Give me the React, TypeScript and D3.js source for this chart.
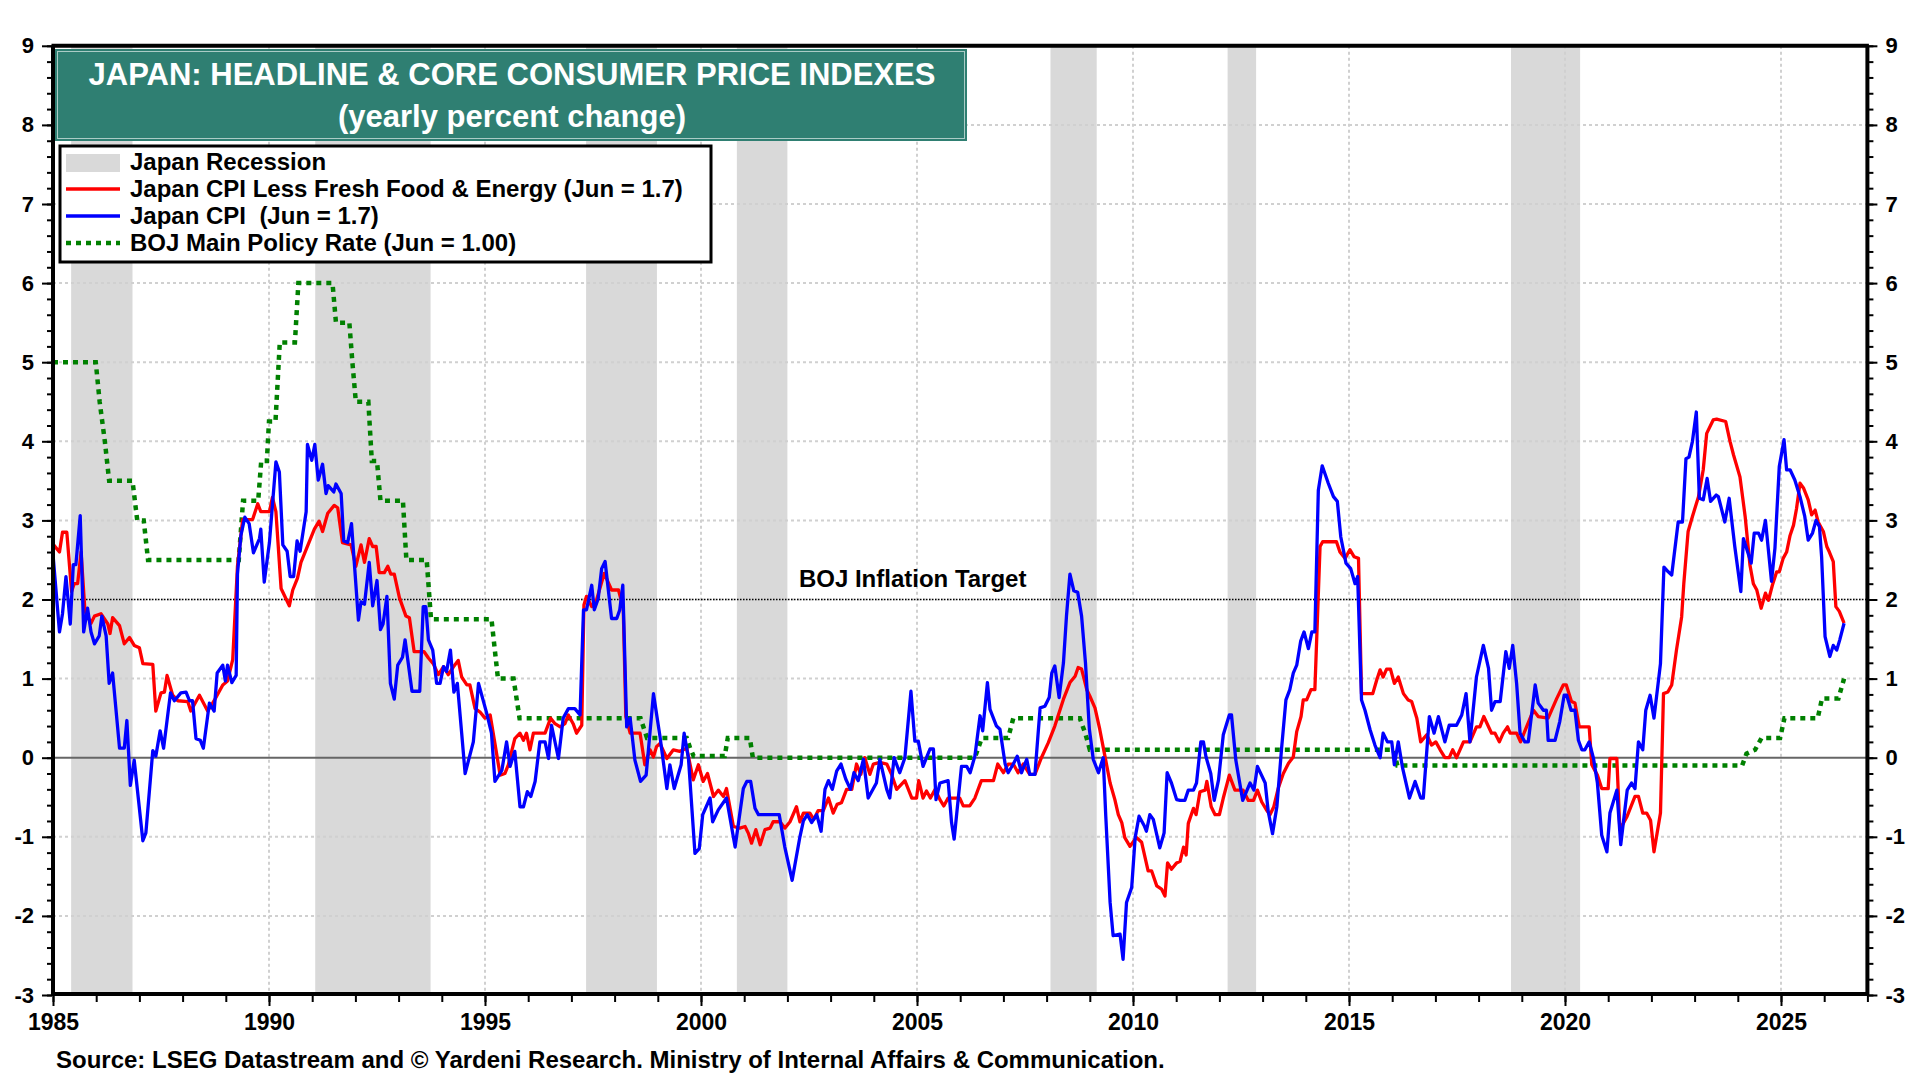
import * as d3 from "d3";
import { useRef, useEffect } from "react";

// recession periods (decimal years)
const recessions: [number, number][] = [
  [1985.42, 1986.84], [1991.07, 1993.74], [1997.34, 1998.98], [2000.83, 2002.0],
  [2008.09, 2009.16], [2012.19, 2012.85], [2018.75, 2020.35],
];

// Japan CPI less fresh food & energy, yearly % change
const coreCpi: [number, number][] = [
  [1985.0, 2.7], [1985.15, 2.6], [1985.22, 2.85], [1985.32, 2.85], [1985.43, 2.1], [1985.49, 2.2], [1985.57, 2.2],
  [1985.65, 2.6], [1985.74, 1.85], [1985.88, 1.7], [1985.96, 1.79], [1986.11, 1.82], [1986.27, 1.69], [1986.32, 1.57],
  [1986.38, 1.77], [1986.54, 1.67], [1986.65, 1.44], [1986.77, 1.52], [1986.88, 1.42], [1987.0, 1.39], [1987.08, 1.19],
  [1987.31, 1.18], [1987.38, 0.59], [1987.5, 0.82], [1987.58, 0.83], [1987.64, 1.04], [1987.77, 0.79], [1987.89, 0.72],
  [1988.12, 0.71], [1988.19, 0.59], [1988.39, 0.79], [1988.58, 0.59], [1988.73, 0.72], [1988.93, 0.92], [1989.04, 0.97],
  [1989.16, 1.24], [1989.27, 2.42], [1989.39, 3.01], [1989.62, 3.01], [1989.74, 3.21], [1989.81, 3.11], [1990.01, 3.11],
  [1990.08, 3.29], [1990.16, 3.11], [1990.28, 2.14], [1990.47, 1.92], [1990.55, 2.12], [1990.66, 2.27], [1990.74, 2.47],
  [1991.05, 2.89], [1991.16, 2.99], [1991.24, 2.86], [1991.36, 3.09], [1991.51, 3.19], [1991.59, 3.16], [1991.7, 2.72],
  [1991.9, 2.69], [1992.01, 2.42], [1992.13, 2.69], [1992.21, 2.47], [1992.32, 2.77], [1992.4, 2.67], [1992.48, 2.67],
  [1992.55, 2.34], [1992.67, 2.34], [1992.75, 2.42], [1992.82, 2.32], [1992.9, 2.32], [1993.02, 2.02], [1993.17, 1.79],
  [1993.25, 1.77], [1993.36, 1.34], [1993.59, 1.34], [1993.69, 1.26], [1993.8, 1.19], [1993.92, 1.05], [1994.04, 1.15],
  [1994.15, 1.05], [1994.27, 1.15], [1994.38, 1.23], [1994.46, 1.02], [1994.58, 0.92], [1994.65, 0.92], [1994.77, 0.62],
  [1994.88, 0.58], [1995.0, 0.5], [1995.12, 0.54], [1995.23, 0.18], [1995.35, -0.22], [1995.46, -0.2], [1995.54, -0.09],
  [1995.69, 0.24], [1995.81, 0.31], [1995.89, 0.22], [1995.96, 0.31], [1996.04, 0.1], [1996.12, 0.31], [1996.39, 0.31],
  [1996.52, 0.5], [1996.62, 0.43], [1996.74, 0.39], [1996.85, 0.43], [1996.93, 0.54], [1997.04, 0.43], [1997.12, 0.31],
  [1997.24, 0.41], [1997.29, 1.93], [1997.35, 2.04], [1997.47, 1.91], [1997.58, 1.99], [1997.76, 2.33], [1997.93, 2.12],
  [1998.09, 2.12], [1998.2, 1.89], [1998.26, 0.52], [1998.36, 0.31], [1998.59, 0.31], [1998.7, -0.09], [1998.82, 0.1],
  [1998.9, 0.01], [1998.97, 0.14], [1999.05, 0.18], [1999.21, -0.01], [1999.36, 0.1], [1999.51, 0.08], [1999.67, 0.12],
  [1999.82, -0.28], [1999.94, -0.09], [2000.05, -0.3], [2000.15, -0.2], [2000.29, -0.49], [2000.4, -0.41], [2000.52, -0.49],
  [2000.59, -0.39], [2000.75, -0.87], [2000.9, -0.89], [2001.02, -0.87], [2001.1, -0.96], [2001.17, -1.08], [2001.27, -0.91],
  [2001.37, -1.1], [2001.48, -0.91], [2001.6, -0.89], [2001.67, -0.81], [2001.83, -0.81], [2001.94, -0.89], [2002.06, -0.81],
  [2002.21, -0.62], [2002.29, -0.81], [2002.37, -0.7], [2002.52, -0.7], [2002.61, -0.78], [2002.71, -0.67], [2002.83, -0.67],
  [2002.95, -0.51], [2003.06, -0.7], [2003.15, -0.59], [2003.25, -0.57], [2003.37, -0.4], [2003.49, -0.4], [2003.6, -0.08],
  [2003.7, -0.21], [2003.79, 0], [2003.91, -0.21], [2003.99, -0.08], [2004.14, -0.06], [2004.3, -0.08], [2004.41, -0.21],
  [2004.53, -0.4], [2004.72, -0.29], [2004.88, -0.51], [2004.99, -0.51], [2005.04, -0.29], [2005.14, -0.51], [2005.22, -0.42],
  [2005.31, -0.51], [2005.42, -0.4], [2005.53, -0.53], [2005.62, -0.61], [2005.72, -0.51], [2005.99, -0.51], [2006.07, -0.61],
  [2006.22, -0.61], [2006.34, -0.51], [2006.49, -0.29], [2006.77, -0.29], [2006.87, -0.08], [2007.0, -0.19], [2007.11, -0.08],
  [2007.23, -0.08], [2007.34, -0.19], [2007.46, -0.08], [2007.61, -0.21], [2007.73, -0.21], [2007.88, 0], [2008.04, 0.19],
  [2008.19, 0.4], [2008.39, 0.74], [2008.54, 0.95], [2008.66, 1.03], [2008.73, 1.14], [2008.81, 1.12], [2008.93, 0.86],
  [2009.0, 0.78], [2009.12, 0.63], [2009.23, 0.36], [2009.35, 0.02], [2009.47, -0.32], [2009.58, -0.53], [2009.66, -0.72],
  [2009.74, -0.82], [2009.81, -1.01], [2009.93, -1.12], [2010.08, -1.01], [2010.2, -1.07], [2010.35, -1.43], [2010.43, -1.43],
  [2010.55, -1.62], [2010.66, -1.66], [2010.74, -1.75], [2010.8, -1.33], [2010.89, -1.41], [2011.01, -1.33], [2011.09, -1.31],
  [2011.17, -1.13], [2011.23, -1.23], [2011.28, -0.83], [2011.4, -0.64], [2011.46, -0.72], [2011.55, -0.43], [2011.67, -0.41],
  [2011.71, -0.3], [2011.81, -0.62], [2011.9, -0.72], [2012.0, -0.72], [2012.09, -0.51], [2012.23, -0.22], [2012.36, -0.41],
  [2012.55, -0.41], [2012.67, -0.54], [2012.79, -0.54], [2012.88, -0.41], [2012.98, -0.56], [2013.09, -0.66], [2013.17, -0.72],
  [2013.26, -0.62], [2013.36, -0.39], [2013.48, -0.2], [2013.6, -0.07], [2013.71, 0.01], [2013.79, 0.33], [2013.89, 0.52],
  [2013.94, 0.73], [2014.02, 0.73], [2014.12, 0.86], [2014.21, 0.86], [2014.33, 2.67], [2014.39, 2.73], [2014.71, 2.73],
  [2014.79, 2.6], [2014.91, 2.52], [2015.02, 2.63], [2015.12, 2.54], [2015.22, 2.52], [2015.29, 0.81], [2015.55, 0.81],
  [2015.64, 0.98], [2015.72, 1.11], [2015.79, 1.02], [2015.87, 1.12], [2015.96, 1.12], [2016.05, 0.94], [2016.14, 1.02],
  [2016.26, 0.81], [2016.37, 0.73], [2016.45, 0.71], [2016.57, 0.5], [2016.66, 0.2], [2016.8, 0.29], [2016.91, 0.16],
  [2017.01, 0.2], [2017.11, 0.1], [2017.22, 0], [2017.32, 0], [2017.4, 0.1], [2017.49, 0], [2017.65, 0.2], [2017.8, 0.2],
  [2017.95, 0.39], [2018.03, 0.39], [2018.12, 0.52], [2018.3, 0.31], [2018.38, 0.31], [2018.48, 0.2], [2018.57, 0.31],
  [2018.67, 0.39], [2018.73, 0.31], [2018.88, 0.31], [2018.97, 0.2], [2019.11, 0.39], [2019.27, 0.6], [2019.38, 0.52],
  [2019.61, 0.5], [2019.81, 0.75], [2019.96, 0.92], [2020.03, 0.92], [2020.15, 0.71], [2020.23, 0.69], [2020.33, 0.39],
  [2020.56, 0.39], [2020.62, -0.09], [2020.75, -0.22], [2020.85, -0.39], [2021.0, -0.39], [2021.04, -0.01], [2021.2, -0.01],
  [2021.27, -0.91], [2021.43, -0.75], [2021.62, -0.49], [2021.7, -0.49], [2021.8, -0.7], [2021.89, -0.7], [2021.98, -0.79],
  [2022.06, -1.19], [2022.21, -0.7], [2022.28, 0.81], [2022.38, 0.83], [2022.47, 0.92], [2022.58, 1.36], [2022.7, 1.78],
  [2022.75, 2.2], [2022.85, 2.86], [2022.95, 3.05], [2023.09, 3.3], [2023.2, 3.64], [2023.28, 4.1], [2023.43, 4.27],
  [2023.51, 4.28], [2023.72, 4.25], [2023.82, 4.0], [2023.9, 3.83], [2024.05, 3.55], [2024.17, 3.05], [2024.28, 2.44],
  [2024.36, 2.2], [2024.44, 2.12], [2024.54, 1.89], [2024.64, 2.08], [2024.71, 1.99], [2024.8, 2.18], [2024.9, 2.35],
  [2024.96, 2.35], [2025.05, 2.52], [2025.13, 2.6], [2025.21, 2.81], [2025.29, 2.94], [2025.36, 3.15], [2025.44, 3.47],
  [2025.52, 3.41], [2025.63, 3.26], [2025.71, 3.07], [2025.79, 3.13], [2025.86, 2.98], [2025.98, 2.86], [2026.06, 2.67],
  [2026.12, 2.6], [2026.21, 2.48], [2026.27, 1.91], [2026.35, 1.85], [2026.46, 1.7],
];

// Japan CPI (headline), yearly % change
const headlineCpi: [number, number][] = [
  [1985.0, 2.57], [1985.15, 1.59], [1985.22, 1.82], [1985.3, 2.29], [1985.4, 1.69], [1985.47, 2.44], [1985.53, 2.44],
  [1985.63, 3.06], [1985.71, 1.59], [1985.8, 1.89], [1985.88, 1.59], [1985.96, 1.44], [1986.07, 1.54], [1986.13, 1.79],
  [1986.23, 1.54], [1986.3, 0.94], [1986.38, 1.07], [1986.54, 0.12], [1986.65, 0.12], [1986.71, 0.47], [1986.79, -0.35],
  [1986.88, -0.03], [1987.08, -1.05], [1987.15, -0.95], [1987.31, 0.09], [1987.38, 0.02], [1987.48, 0.34], [1987.56, 0.12],
  [1987.72, 0.82], [1987.81, 0.72], [1987.96, 0.82], [1988.08, 0.83], [1988.16, 0.72], [1988.23, 0.72], [1988.31, 0.24],
  [1988.41, 0.22], [1988.48, 0.12], [1988.62, 0.69], [1988.73, 0.59], [1988.8, 1.07], [1988.93, 1.17], [1988.99, 0.97],
  [1989.04, 1.17], [1989.14, 0.95], [1989.24, 1.04], [1989.27, 2.32], [1989.35, 2.81], [1989.44, 3.04], [1989.54, 2.96],
  [1989.64, 2.59], [1989.78, 2.77], [1989.81, 2.89], [1989.89, 2.22], [1990.01, 2.72], [1990.16, 3.74], [1990.24, 3.61],
  [1990.32, 2.69], [1990.42, 2.61], [1990.49, 2.29], [1990.57, 2.29], [1990.65, 2.74], [1990.72, 2.61], [1990.86, 3.11],
  [1990.89, 3.96], [1990.99, 3.76], [1991.06, 3.96], [1991.14, 3.51], [1991.24, 3.71], [1991.32, 3.34], [1991.37, 3.44],
  [1991.5, 3.36], [1991.55, 3.46], [1991.67, 3.34], [1991.73, 2.74], [1991.82, 2.72], [1991.91, 2.96], [1992.07, 1.74],
  [1992.13, 1.97], [1992.21, 1.94], [1992.32, 2.47], [1992.4, 1.92], [1992.5, 2.24], [1992.58, 1.62], [1992.64, 1.69],
  [1992.73, 2.04], [1992.81, 0.94], [1992.9, 0.74], [1992.98, 1.17], [1993.09, 1.27], [1993.15, 1.49], [1993.31, 0.84],
  [1993.49, 0.84], [1993.57, 1.91], [1993.63, 1.91], [1993.69, 1.49], [1993.79, 1.36], [1993.88, 0.94], [1993.96, 0.94],
  [1994.04, 1.15], [1994.11, 1.09], [1994.2, 1.36], [1994.28, 0.83], [1994.36, 0.94], [1994.46, 0.31], [1994.54, -0.2],
  [1994.73, 0.2], [1994.85, 0.94], [1995.04, 0.56], [1995.15, 0.31], [1995.23, -0.3], [1995.39, -0.16], [1995.5, 0.2],
  [1995.58, -0.11], [1995.69, 0.08], [1995.81, -0.62], [1995.89, -0.62], [1995.98, -0.43], [1996.06, -0.49], [1996.16, -0.3],
  [1996.27, 0.2], [1996.39, 0.2], [1996.47, -0.01], [1996.54, 0.41], [1996.7, -0.01], [1996.81, 0.5], [1996.93, 0.62],
  [1997.08, 0.62], [1997.2, 0.54], [1997.28, 1.87], [1997.35, 1.87], [1997.47, 2.18], [1997.53, 1.87], [1997.62, 2.01],
  [1997.7, 2.39], [1997.78, 2.48], [1997.93, 1.76], [1998.05, 1.76], [1998.12, 1.87], [1998.19, 2.18], [1998.28, 0.39],
  [1998.36, 0.5], [1998.47, -0.03], [1998.6, -0.3], [1998.73, -0.22], [1998.9, 0.81], [1999.05, 0.27], [1999.21, -0.39],
  [1999.28, -0.09], [1999.38, -0.39], [1999.54, -0.09], [1999.61, 0.31], [1999.71, -0.01], [1999.86, -1.21], [1999.96, -1.15],
  [2000.04, -0.72], [2000.21, -0.51], [2000.27, -0.81], [2000.4, -0.66], [2000.59, -0.51], [2000.79, -1.13], [2000.98, -0.39],
  [2001.06, -0.3], [2001.15, -0.3], [2001.25, -0.64], [2001.33, -0.72], [2001.81, -0.72], [2001.94, -1.13], [2002.11, -1.55],
  [2002.29, -1.0], [2002.37, -0.8], [2002.46, -0.72], [2002.56, -0.82], [2002.68, -0.72], [2002.78, -0.93], [2002.87, -0.4],
  [2002.95, -0.29], [2003.04, -0.4], [2003.14, -0.17], [2003.24, -0.08], [2003.35, -0.27], [2003.46, -0.4], [2003.54, -0.19],
  [2003.64, -0.29], [2003.76, -0.02], [2003.87, -0.51], [2004.06, -0.32], [2004.14, -0.02], [2004.3, -0.4], [2004.37, -0.51],
  [2004.47, 0], [2004.6, -0.19], [2004.72, 0], [2004.86, 0.84], [2004.95, 0.21], [2005.03, 0.21], [2005.14, -0.11],
  [2005.22, 0], [2005.3, 0.11], [2005.38, 0.11], [2005.44, -0.53], [2005.53, -0.32], [2005.72, -0.29], [2005.8, -0.82],
  [2005.86, -1.03], [2006.03, -0.11], [2006.15, -0.11], [2006.23, -0.19], [2006.34, 0.02], [2006.46, 0.53], [2006.52, 0.34],
  [2006.63, 0.95], [2006.69, 0.61], [2006.84, 0.4], [2006.92, 0.36], [2007.04, -0.08], [2007.11, -0.19], [2007.23, -0.08],
  [2007.32, 0.02], [2007.42, -0.19], [2007.54, -0.02], [2007.61, -0.21], [2007.73, -0.21], [2007.85, 0.63], [2007.96, 0.65],
  [2008.06, 0.76], [2008.12, 1.07], [2008.19, 1.16], [2008.29, 0.76], [2008.39, 1.2], [2008.46, 1.79], [2008.54, 2.32],
  [2008.63, 2.11], [2008.72, 2.09], [2008.81, 1.79], [2008.9, 1.2], [2008.99, 0.36], [2009.08, -0.02], [2009.2, -0.19],
  [2009.31, 0], [2009.37, -0.74], [2009.47, -1.83], [2009.54, -2.25], [2009.7, -2.23], [2009.77, -2.55], [2009.85, -1.83],
  [2009.97, -1.64], [2010.05, -1.01], [2010.14, -0.74], [2010.26, -0.86], [2010.31, -0.93], [2010.39, -0.72], [2010.47, -0.78],
  [2010.62, -1.14], [2010.72, -0.95], [2010.79, -0.19], [2010.89, -0.32], [2011.01, -0.53], [2011.09, -0.54], [2011.2, -0.54],
  [2011.28, -0.41], [2011.4, -0.41], [2011.47, -0.32], [2011.57, 0.2], [2011.63, 0.2], [2011.69, 0.01], [2011.8, -0.2],
  [2011.88, -0.54], [2011.98, -0.28], [2012.09, 0.29], [2012.23, 0.54], [2012.28, 0.54], [2012.38, -0.03], [2012.54, -0.54],
  [2012.71, -0.32], [2012.8, -0.41], [2012.88, -0.11], [2013.06, -0.32], [2013.13, -0.68], [2013.23, -0.96], [2013.33, -0.62],
  [2013.44, 0.12], [2013.54, 0.73], [2013.63, 0.86], [2013.71, 1.07], [2013.79, 1.17], [2013.88, 1.47], [2013.96, 1.59],
  [2014.06, 1.38], [2014.14, 1.59], [2014.21, 1.59], [2014.29, 3.38], [2014.38, 3.69], [2014.52, 3.47], [2014.64, 3.3],
  [2014.73, 3.24], [2014.81, 2.79], [2014.93, 2.46], [2015.04, 2.39], [2015.14, 2.2], [2015.2, 2.29], [2015.29, 0.73],
  [2015.37, 0.6], [2015.49, 0.35], [2015.6, 0.16], [2015.72, 0], [2015.79, 0.31], [2015.89, 0.2], [2015.99, 0.2],
  [2016.05, -0.09], [2016.14, 0.2], [2016.24, -0.13], [2016.4, -0.51], [2016.53, -0.3], [2016.66, -0.51], [2016.72, -0.51],
  [2016.86, 0.52], [2016.97, 0.31], [2017.07, 0.52], [2017.22, 0.2], [2017.32, 0.41], [2017.49, 0.41], [2017.61, 0.54],
  [2017.71, 0.81], [2017.8, 0.2], [2017.95, 1.02], [2018.11, 1.42], [2018.23, 1.13], [2018.3, 0.6], [2018.38, 0.71],
  [2018.5, 0.71], [2018.63, 1.34], [2018.71, 1.13], [2018.79, 1.42], [2018.88, 0.94], [2018.96, 0.31], [2019.07, 0.2],
  [2019.15, 0.2], [2019.31, 0.92], [2019.38, 0.69], [2019.5, 0.6], [2019.57, 0.6], [2019.61, 0.22], [2019.77, 0.22],
  [2019.88, 0.46], [2019.98, 0.79], [2020.04, 0.79], [2020.14, 0.6], [2020.23, 0.6], [2020.31, 0.22], [2020.39, 0.1],
  [2020.46, 0.1], [2020.56, 0.2], [2020.66, -0.01], [2020.75, -0.32], [2020.85, -0.98], [2020.97, -1.19], [2021.04, -0.7],
  [2021.2, -0.41], [2021.29, -1.1], [2021.44, -0.41], [2021.54, -0.32], [2021.62, -0.39], [2021.7, 0.2], [2021.8, 0.1],
  [2021.87, 0.6], [2021.97, 0.79], [2022.06, 0.5], [2022.21, 1.19], [2022.29, 2.41], [2022.39, 2.35], [2022.47, 2.31],
  [2022.62, 2.98], [2022.72, 2.98], [2022.8, 3.78], [2022.87, 3.8], [2022.95, 4.0], [2023.04, 4.37], [2023.11, 3.28],
  [2023.2, 3.26], [2023.29, 3.53], [2023.37, 3.24], [2023.5, 3.32], [2023.55, 3.3], [2023.7, 2.98], [2023.8, 3.28],
  [2023.93, 2.67], [2024.07, 2.1], [2024.13, 2.77], [2024.31, 2.46], [2024.38, 2.84], [2024.48, 2.84], [2024.55, 2.75],
  [2024.64, 3.0], [2024.78, 2.23], [2024.86, 2.65], [2024.96, 3.68], [2025.07, 4.02], [2025.13, 3.64], [2025.21, 3.64],
  [2025.32, 3.51], [2025.44, 3.3], [2025.55, 3.05], [2025.63, 2.75], [2025.73, 2.84], [2025.81, 3.0], [2025.89, 2.92],
  [2025.94, 2.54], [2026.02, 1.53], [2026.13, 1.28], [2026.21, 1.42], [2026.29, 1.36], [2026.36, 1.49], [2026.46, 1.7],
];

// BOJ main policy rate, %
const policyRate: [number, number][] = [
  [1985.0, 5], [1985.99, 5], [1986.08, 4.5], [1986.2, 4.0], [1986.3, 3.5], [1986.84, 3.5], [1986.95, 3.0], [1987.1, 3.0],
  [1987.2, 2.5], [1989.3, 2.5], [1989.4, 3.25], [1989.75, 3.25], [1989.82, 3.75], [1989.95, 3.75], [1990.0, 4.25],
  [1990.15, 4.25], [1990.25, 5.25], [1990.6, 5.25], [1990.68, 6.0], [1991.47, 6.0], [1991.55, 5.5], [1991.86, 5.5],
  [1991.93, 5.0], [1992.01, 4.5], [1992.3, 4.5], [1992.38, 3.75], [1992.5, 3.75], [1992.58, 3.25], [1993.1, 3.25],
  [1993.18, 2.5], [1993.65, 2.5], [1993.75, 1.75], [1995.15, 1.75], [1995.3, 1.0], [1995.66, 1.0], [1995.8, 0.5],
  [1998.6, 0.5], [1998.75, 0.25], [1999.67, 0.25], [1999.75, 0.12], [1999.83, 0.02], [2000.55, 0.02], [2000.62, 0.25],
  [2001.13, 0.25], [2001.2, 0.0], [2006.34, 0.0], [2006.5, 0.25], [2007.11, 0.25], [2007.23, 0.5], [2008.77, 0.5],
  [2008.9, 0.3], [2009.0, 0.1], [2016.03, 0.1], [2016.12, -0.1], [2024.1, -0.1], [2024.2, 0.05], [2024.4, 0.1],
  [2024.55, 0.25], [2024.98, 0.25], [2025.08, 0.5], [2025.85, 0.5], [2025.95, 0.75], [2026.33, 0.75], [2026.46, 1.0],
];

const yTicks = d3.range(-3, 10);
const xTicks = d3.range(1985, 2026, 5);

const FONT = "'Liberation Sans', Arial, Helvetica, sans-serif";
const TEAL = "#2f7f72";
const GRID = "#d0d0d0";
const SHADE = "#d9d9d9";

const width = 1920;
const height = 1080;

const App = () => {
  const gLeft = useRef<SVGGElement>(null);
  const gLeftMinor = useRef<SVGGElement>(null);
  const gRight = useRef<SVGGElement>(null);
  const gRightMinor = useRef<SVGGElement>(null);
  const gBottom = useRef<SVGGElement>(null);
  const gBottomMinor = useRef<SVGGElement>(null);

  const x = d3.scaleLinear().domain([1985, 2027]).range([53, 1867.4]);
  const y = d3.scaleLinear().domain([-3, 9]).range([995, 45.8]);

  const [x0, x1] = x.range();
  const [yb, yt] = y.range();

  const line = d3.line<[number, number]>()
    .x(d => x(d[0]))
    .y(d => y(d[1]));

  useEffect(() => {
    const style = (g: d3.Selection<SVGGElement, unknown, null, undefined>) => {
      g.select(".domain").remove();
      g.selectAll("line").attr("stroke", "#000").attr("stroke-width", 2);
      g.selectAll("text")
        .attr("fill", "#000")
        .attr("font-family", FONT)
        .attr("font-weight", "bold")
        .attr("font-size", 22);
    };
    const minorY = d3.range(-3, 9.001, 0.2);
    const fmt = (d: d3.NumberValue) => String(d);

    if (gLeft.current) {
      const g = d3.select(gLeft.current);
      g.call(d3.axisLeft(y).tickValues(yTicks).tickSize(10).tickPadding(8).tickFormat(fmt));
      style(g);
    }
    if (gLeftMinor.current) {
      const g = d3.select(gLeftMinor.current);
      g.call(d3.axisLeft(y).tickValues(minorY).tickSize(5).tickFormat(() => ""));
      style(g);
    }
    if (gRight.current) {
      const g = d3.select(gRight.current);
      g.call(d3.axisRight(y).tickValues(yTicks).tickSize(9).tickPadding(8).tickFormat(fmt));
      style(g);
    }
    if (gRightMinor.current) {
      const g = d3.select(gRightMinor.current);
      g.call(d3.axisRight(y).tickValues(minorY).tickSize(5).tickFormat(() => ""));
      style(g);
    }
    if (gBottom.current) {
      const g = d3.select(gBottom.current);
      g.call(d3.axisBottom(x).tickValues(xTicks).tickSize(10).tickPadding(8).tickFormat(d3.format("d")));
      style(g);
      g.selectAll("text").attr("font-size", 23);
    }
    if (gBottomMinor.current) {
      const g = d3.select(gBottomMinor.current);
      g.call(d3.axisBottom(x).tickValues(d3.range(1985, 2028)).tickSize(6).tickFormat(() => ""));
      style(g);
    }
  }, [x, y]);

  const legendRows = [
    { label: "Japan CPI Less Fresh Food & Energy (Jun = 1.7)", color: "red", dash: undefined },
    { label: "Japan CPI  (Jun = 1.7)", color: "blue", dash: undefined },
    { label: "BOJ Main Policy Rate (Jun = 1.00)", color: "green", dash: "5 5" },
  ];

  return (
    <svg
      width={width}
      height={height}
      style={{ position: "absolute", left: 0, top: 0, background: "#fff" }}
      fontFamily={FONT}
    >
      <rect x={0} y={0} width={width} height={height} fill="#fff" />

      {/* recession shading */}
      {recessions.map(([s, e], i) => (
        <rect key={i} x={x(s)} y={yt} width={x(e) - x(s)} height={yb - yt} fill={SHADE} />
      ))}

      {/* grid */}
      {yTicks.filter(v => v > -3 && v < 9 && v !== 0).map(v => (
        <line key={`gy${v}`} x1={x0} x2={x1} y1={y(v)} y2={y(v)}
          stroke={GRID} strokeWidth={2} strokeDasharray="3 3" />
      ))}
      {xTicks.filter(v => v > 1985).map(v => (
        <line key={`gx${v}`} x1={x(v)} x2={x(v)} y1={yt} y2={yb}
          stroke={GRID} strokeWidth={2} strokeDasharray="3 3" />
      ))}

      {/* zero line and inflation target */}
      <line x1={x0} x2={x1} y1={y(0)} y2={y(0)} stroke="#666" strokeWidth={2} />
      <line x1={x0} x2={x1} y1={y(2)} y2={y(2)} stroke="#000" strokeWidth={1.5} strokeDasharray="1.5 1.5" />
      <text x={x(2004.9)} y={y(2) - 13} textAnchor="middle" fontWeight="bold" fontSize={24}>
        BOJ Inflation Target
      </text>

      {/* series */}
      <path d={line(policyRate) ?? ""} fill="none" stroke="green" strokeWidth={4.5} strokeDasharray="5 5" />
      <path d={line(coreCpi) ?? ""} fill="none" stroke="red" strokeWidth={3.3} strokeLinejoin="round" />
      <path d={line(headlineCpi) ?? ""} fill="none" stroke="blue" strokeWidth={3.3} strokeLinejoin="round" />

      {/* frame */}
      <line x1={x0 - 1.5} x2={x1 + 1.5} y1={yt} y2={yt} stroke="#000" strokeWidth={4} />
      <line x1={x0 - 1.5} x2={x1 + 1.5} y1={yb - 1} y2={yb - 1} stroke="#000" strokeWidth={4} />
      <line x1={x0} x2={x0} y1={yt} y2={yb} stroke="#000" strokeWidth={4} />
      <line x1={x1} x2={x1} y1={yt} y2={yb} stroke="#000" strokeWidth={4} />

      {/* axes */}
      <g ref={gLeftMinor} transform={`translate(${x0 - 1},0)`} />
      <g ref={gLeft} transform={`translate(${x0 - 1},0)`} />
      <g ref={gRightMinor} transform={`translate(${x1 + 1},0)`} />
      <g ref={gRight} transform={`translate(${x1 + 1},0)`} />
      <g ref={gBottomMinor} transform={`translate(0,${yb + 1})`} />
      <g ref={gBottom} transform={`translate(0,${yb + 1})`} />

      {/* title */}
      <rect x={55} y={49} width={912} height={92} fill={TEAL} />
      <rect x={57.5} y={51.5} width={907} height={87} fill="none" stroke="#fff" strokeOpacity={0.6} strokeWidth={1} />
      <text x={512} y={85} textAnchor="middle" fill="#fff" fontWeight="bold" fontSize={31}>
        JAPAN: HEADLINE &amp; CORE CONSUMER PRICE INDEXES
      </text>
      <text x={512} y={127} textAnchor="middle" fill="#fff" fontWeight="bold" fontSize={31}>
        (yearly percent change)
      </text>

      {/* legend */}
      <rect x={60} y={146} width={651} height={116} fill="#fff" stroke="#000" strokeWidth={3} />
      <rect x={66} y={154} width={54} height={18} fill={SHADE} />
      <text x={130} y={170} fontWeight="bold" fontSize={24}>Japan Recession</text>
      {legendRows.map((r, i) => (
        <g key={r.label} transform={`translate(0,${189 + i * 27})`}>
          <line x1={66} x2={120} y1={0} y2={0} stroke={r.color} strokeWidth={r.dash ? 4.5 : 3.5}
            strokeDasharray={r.dash} />
          <text x={130} y={8} fontWeight="bold" fontSize={24} style={{ whiteSpace: "pre" }}>{r.label}</text>
        </g>
      ))}

      {/* source */}
      <text x={56} y={1068} fontWeight="bold" fontSize={24}>
        Source: LSEG Datastream and © Yardeni Research. Ministry of Internal Affairs &amp; Communication.
      </text>
    </svg>
  );
};

export default App;
